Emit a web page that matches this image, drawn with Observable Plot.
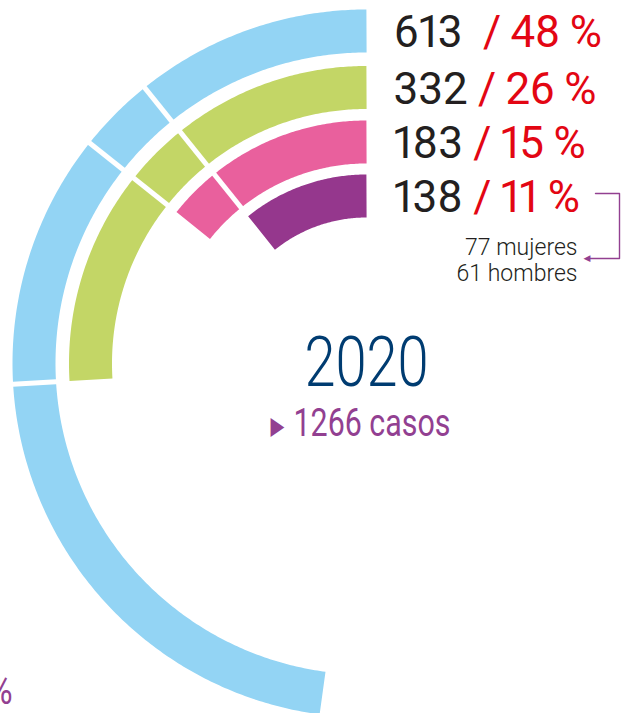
<!DOCTYPE html>
<html><head><meta charset="utf-8">
<script src="https://cdn.jsdelivr.net/npm/d3@7"></script>
<script src="https://cdn.jsdelivr.net/npm/@observablehq/plot@0.6"></script>
<style>
  html, body { margin: 0; padding: 0; background: #fff; }
  #chart svg { display: block; }
</style>
</head><body><div id="chart"></div>
<script>
// ---- data ----
const categories = ["anillo 1", "anillo 2", "anillo 3", "anillo 4"];
const counts = [613, 332, 183, 138];
const percents = [48, 26, 15, 11];
const separators = ["  / ", " / ", " / ", " / "];
const colors = ["#93d4f4", "#c3d666", "#e9609d", "#95378d"];
const yearLabel = "2020";
const totalLabel = "1266 casos";
const breakdown = ["77 mujeres", "61 hombres"];
const cutLabel = "%";

// ---- layout (pixels around the ring centre) ----
const fullTurn = 1280;                 // value that would fill the whole circle
const inner = [311, 255, 200, 146];
const outer = [354, 297, 243, 189];
const mid = inner.map((r, i) => (r + outer[i]) / 2);
const ringWidth = 43;
const angle = d3.scaleLinear().domain([0, fullTurn]).range([0, 2 * Math.PI]);
const polar = (r, a) => ({x: -r * Math.sin(a), y: r * Math.cos(a)});

const arcPoints = categories.flatMap((c, i) => {
  const end = angle(counts[i]);
  const n = Math.ceil(end / (Math.PI / 360));
  return d3.range(n + 1).map(k => ({cat: c, ...polar(mid[i], end * k / n)}));
});

const gaps = categories.slice(1).map((c, j) => {
  const i = j + 1, a = angle(counts[i]);
  const p1 = polar(outer[i] + 1, a), p2 = polar(372, a);
  return {x1: p1.x, y1: p1.y, x2: p2.x, y2: p2.y};
});

const rows = categories.map((c, i) => ({label: String(counts[i]), sep: separators[i], pct: percents[i], y: mid[i]}));
const labelX = 27;
const noteX = 211, noteY = 127;
const bracketTop = mid[3] + 2.5, bracketBottom = 105;
const bracket = [
  {x: 229, y: bracketTop}, {x: 253, y: bracketTop}, {x: 253, y: bracketBottom}, {x: 222, y: bracketBottom}
];

const purple = "#924091";

const plot = Plot.plot({
  width: 621, height: 713, margin: 0,
  x: {domain: [-366, 255], axis: null},
  y: {domain: [-350, 363], axis: null},
  style: {background: "#fff", fontFamily: "Roboto, sans-serif", overflow: "visible"},
  marks: [
    ...categories.map((c, i) => Plot.line(arcPoints.filter(d => d.cat === c), {
      x: "x", y: "y", stroke: colors[i], strokeWidth: ringWidth,
      strokeLinecap: "butt", strokeLinejoin: "round", curve: "linear"
    })),                                                                       // g 0-3
    Plot.link(gaps, {x1: "x1", y1: "y1", x2: "x2", y2: "y2", stroke: "#fff", strokeWidth: 5, strokeLinecap: "butt"}), // g 4
    Plot.text(rows, {x: () => labelX, y: "y", text: "label", textAnchor: "start", lineAnchor: "middle",
      dy: 2, fontSize: 44, fill: "#231f20"}),                                  // g 5
    Plot.text([yearLabel], {x: () => 0, y: () => -22, text: d => d, textAnchor: "middle", lineAnchor: "bottom",
      fontSize: 70, fontWeight: 300, fill: "#003c71"}),                        // g 6
    Plot.text(["\u25B6"], {x: () => -89, y: () => -62, text: d => d, textAnchor: "middle", lineAnchor: "middle",
      fontSize: 25, fontFamily: "DejaVu Sans", fill: purple}),                 // g 7
    Plot.text([totalLabel], {x: () => -73, y: () => -72, text: d => d, textAnchor: "start", lineAnchor: "bottom",
      fontSize: 38, fill: purple}),                                            // g 8
    Plot.text([breakdown.join("\n")], {x: () => noteX, y: () => noteY, text: d => d, textAnchor: "end", lineAnchor: "top",
      fontSize: 23, fontWeight: 300, lineHeight: 1.13, fill: "#231f20"}),      // g 9
    Plot.line(bracket, {x: "x", y: "y", stroke: purple, strokeWidth: 1.4, curve: "linear"}), // g 10
    Plot.text(["\u25C0"], {x: () => 217, y: () => bracketBottom, text: d => d, textAnchor: "start", lineAnchor: "middle",
      fontSize: 9, fontFamily: "DejaVu Sans", fill: purple}),                  // g 11
    Plot.text([cutLabel], {x: () => -354, y: () => -340, text: d => d, textAnchor: "end", lineAnchor: "bottom",
      fontSize: 42, fill: purple})                                             // g 12
  ]
});

const groups = Array.from(plot.children).filter(n => n.tagName.toLowerCase() === "g");

// red percentage part of each count row
d3.select(groups[5])
  .style("white-space", "pre")
  .style("font-variant-numeric", "proportional-nums")
  .selectAll("text").each(function(d, k) {
    const i = typeof d === "number" ? d : k;
    this.setAttributeNS("http://www.w3.org/XML/1998/namespace", "xml:space", "preserve");
    d3.select(this).append("tspan")
      .attr("fill", "#e30613")
      .style("letter-spacing", "-0.7px")
      .text(`${rows[i].sep}${rows[i].pct} %`);
  });

// condensed look for selected labels
function squeeze(g, sx) {
  d3.select(g).selectAll("text").each(function() {
    let t = this.getAttribute("transform");
    if (!t) {
      t = `translate(${this.getAttribute("x") || 0},${this.getAttribute("y") || 0})`;
      this.removeAttribute("x"); this.removeAttribute("y");
    }
    this.setAttribute("transform", `${t} scale(${sx},1)`);
  });
}
squeeze(groups[6], 0.8);
squeeze(groups[7], 0.72);
squeeze(groups[8], 0.8);
squeeze(groups[12], 0.8);

document.getElementById("chart").appendChild(plot);
</script>
</body></html>
